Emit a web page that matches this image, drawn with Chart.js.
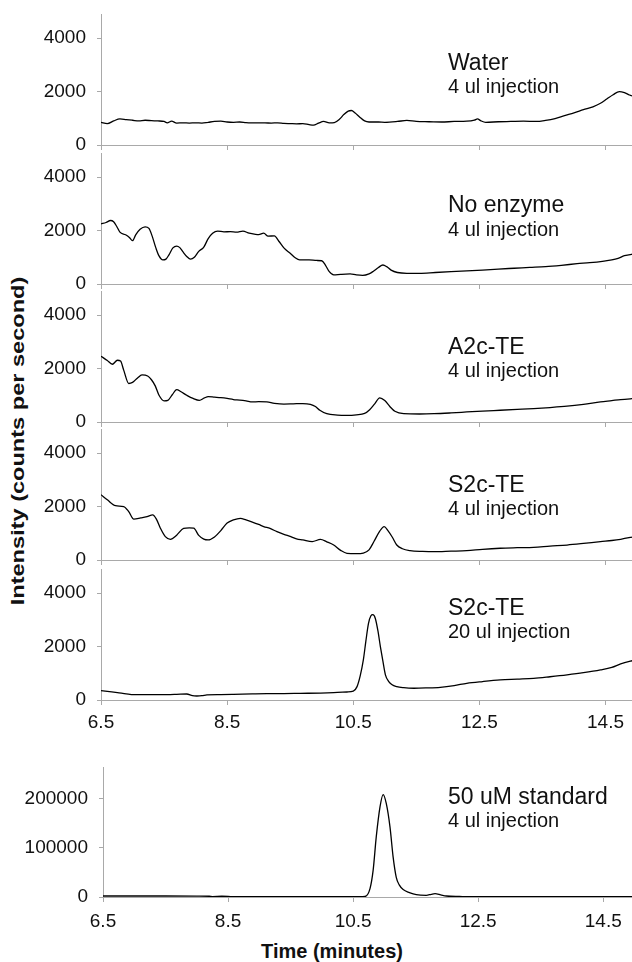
<!DOCTYPE html>
<html>
<head>
<meta charset="utf-8">
<script src="https://cdn.jsdelivr.net/npm/chart.js@4.4.1/dist/chart.umd.min.js"></script>
<style>
    body { margin: 0; background: #fff; }
    #wrap { position: relative; width: 632px; height: 962px; overflow: hidden; }
    #wrap canvas { position: absolute; left: 0; }
    #ytitle {
        position: absolute; left: 18px; top: 441px; white-space: nowrap;
        font: bold 19px "Liberation Sans", Arial, sans-serif; color: #111;
        transform: translate(-50%, -50%) rotate(-90deg) scaleX(1.24);
    }
    #xtitle {
        position: absolute; left: 332px; top: 940px; white-space: nowrap; line-height: 20px;
        font: bold 20px "Liberation Sans", Arial, sans-serif; color: #111;
        transform: translateX(-50%);
    }
</style>
</head>
<body>
<div id="wrap">
    <div id="ytitle">Intensity (counts per second)</div>
    <div id="xtitle">Time (minutes)</div>
</div>
<script>
// Data (time in minutes, intensity in counts per second)
const xTicks = [6.5, 8.5, 10.5, 12.5, 14.5];
const yTicksSample = [0, 2000, 4000];
const yTicksStd = [0, 100000, 200000];

const waterT = [6.5, 6.6, 6.7, 6.8, 6.9, 7.0, 7.1, 7.2, 7.3, 7.4, 7.5, 7.55, 7.62, 7.7, 7.8, 7.9, 8.0, 8.1, 8.2, 8.3, 8.4, 8.5, 8.6, 8.7, 8.8, 8.9, 9.0, 9.1, 9.2, 9.3, 9.4, 9.5, 9.6, 9.7, 9.8, 9.87, 9.95, 10.03, 10.12, 10.2, 10.28, 10.35, 10.42, 10.47, 10.53, 10.6, 10.68, 10.75, 10.9, 11.0, 11.2, 11.35, 11.5, 11.7, 11.9, 12.1, 12.3, 12.42, 12.47, 12.52, 12.6, 12.8, 13.0, 13.2, 13.4, 13.55, 13.7, 13.85, 14.0, 14.15, 14.3, 14.42, 14.52, 14.62, 14.72, 14.8, 14.88, 14.97];
const waterY = [850, 800, 900, 975, 950, 925, 900, 925, 910, 900, 880, 830, 890, 820, 830, 820, 830, 820, 850, 880, 890, 860, 850, 860, 840, 830, 825, 825, 820, 830, 810, 800, 790, 800, 760, 740, 820, 880, 830, 840, 960, 1140, 1270, 1290, 1200, 1050, 900, 860, 860, 850, 880, 920, 880, 870, 860, 880, 890, 930, 975, 910, 850, 870, 880, 890, 880, 920, 990, 1100, 1200, 1320, 1430, 1560, 1720, 1880, 2000, 1960, 1870, 1800];

const noEnzT = [6.5, 6.58, 6.65, 6.7, 6.75, 6.8, 6.89, 6.95, 7.0, 7.05, 7.12, 7.2, 7.26, 7.31, 7.37, 7.42, 7.48, 7.53, 7.58, 7.64, 7.7, 7.75, 7.8, 7.86, 7.92, 7.98, 8.05, 8.13, 8.2, 8.27, 8.35, 8.45, 8.55, 8.65, 8.75, 8.85, 8.95, 9.0, 9.08, 9.15, 9.25, 9.32, 9.4, 9.5, 9.58, 9.65, 9.8, 9.92, 10.0, 10.06, 10.12, 10.19, 10.3, 10.45, 10.55, 10.65, 10.75, 10.82, 10.9, 10.97, 11.03, 11.1, 11.2, 11.35, 11.55, 11.8, 12.05, 12.3, 12.55, 12.8, 13.05, 13.3, 13.55, 13.8, 14.05, 14.25, 14.45, 14.6, 14.7, 14.8, 14.97];
const noEnzY = [2250, 2300, 2375, 2330, 2150, 1940, 1840, 1740, 1620, 1840, 2050, 2140, 2080, 1800, 1350, 1050, 900, 930, 1100, 1350, 1420, 1360, 1200, 1030, 930, 1000, 1220, 1380, 1700, 1900, 1980, 1950, 1960, 1940, 1980, 1900, 1860, 1850, 1900, 1790, 1800, 1600, 1350, 1150, 980, 900, 900, 880, 870, 700, 460, 340, 360, 375, 340, 325, 380, 480, 620, 710, 650, 520, 430, 400, 400, 430, 460, 490, 520, 560, 590, 620, 650, 700, 760, 800, 850, 900, 960, 1060, 1130];

const a2cT = [6.5, 6.6, 6.68, 6.76, 6.81, 6.86, 6.94, 7.0, 7.08, 7.15, 7.24, 7.3, 7.36, 7.42, 7.5, 7.56, 7.63, 7.7, 7.77, 7.86, 7.96, 8.06, 8.14, 8.2, 8.3, 8.4, 8.5, 8.6, 8.7, 8.8, 8.9, 9.0, 9.13, 9.25, 9.4, 9.55, 9.7, 9.82, 9.9, 9.97, 10.08, 10.25, 10.4, 10.55, 10.68, 10.76, 10.84, 10.92, 11.0, 11.08, 11.16, 11.3, 11.55, 11.78, 12.05, 12.3, 12.55, 12.83, 13.1, 13.36, 13.62, 13.89, 14.15, 14.42, 14.6, 14.74, 14.97];
const a2cY = [2460, 2300, 2160, 2310, 2280, 1940, 1440, 1480, 1650, 1760, 1720, 1580, 1350, 1000, 790, 810, 1020, 1210, 1130, 1000, 880, 810, 900, 950, 930, 910, 880, 840, 820, 790, 750, 760, 750, 700, 670, 680, 690, 660, 580, 440, 310, 260, 250, 270, 320, 460, 680, 900, 800, 580, 400, 310, 300, 310, 340, 375, 410, 440, 470, 500, 540, 590, 660, 750, 800, 840, 880];

const s2cT = [6.5, 6.6, 6.73, 6.86, 6.94, 7.02, 7.13, 7.23, 7.32, 7.38, 7.44, 7.52, 7.6, 7.7, 7.81, 7.9, 7.97, 8.05, 8.13, 8.2, 8.3, 8.4, 8.5, 8.6, 8.71, 8.8, 8.9, 9.0, 9.08, 9.18, 9.29, 9.4, 9.51, 9.6, 9.7, 9.85, 9.98, 10.08, 10.19, 10.3, 10.4, 10.55, 10.66, 10.75, 10.83, 10.92, 10.99, 11.05, 11.12, 11.19, 11.28, 11.4, 11.6, 11.78, 12.05, 12.3, 12.55, 12.83, 13.1, 13.36, 13.62, 13.89, 14.15, 14.42, 14.6, 14.74, 14.97];
const s2cY = [2440, 2250, 2030, 2000, 1810, 1530, 1575, 1625, 1690, 1520, 1200, 875, 775, 930, 1180, 1200, 1190, 920, 780, 750, 860, 1100, 1380, 1500, 1560, 1500, 1420, 1330, 1250, 1180, 1060, 960, 875, 790, 750, 690, 770, 680, 560, 360, 250, 240, 260, 380, 700, 1080, 1250, 1100, 850, 560, 420, 350, 320, 310, 330, 350, 400, 440, 460, 475, 520, 560, 620, 690, 730, 775, 880];

const s2c20T = [6.5, 6.6, 6.76, 6.9, 7.02, 7.3, 7.55, 7.7, 7.86, 7.95, 8.02, 8.1, 8.18, 8.4, 8.6, 8.9, 9.13, 9.4, 9.66, 9.98, 10.19, 10.4, 10.5, 10.56, 10.61, 10.66, 10.7, 10.74, 10.78, 10.81, 10.85, 10.89, 10.93, 10.97, 11.01, 11.06, 11.11, 11.19, 11.3, 11.46, 11.65, 11.88, 12.1, 12.3, 12.55, 12.83, 13.1, 13.36, 13.62, 13.89, 14.15, 14.42, 14.6, 14.74, 14.97];
const s2c20Y = [350, 320, 275, 230, 200, 200, 200, 210, 225, 160, 150, 160, 190, 200, 210, 230, 240, 240, 250, 260, 275, 300, 330, 500, 900, 1500, 2200, 2850, 3150, 3190, 3050, 2600, 2000, 1450, 940, 700, 580, 500, 460, 440, 450, 475, 540, 625, 690, 750, 780, 810, 870, 940, 1020, 1125, 1220, 1350, 1500];

const stdT = [6.5, 7.5, 8.0, 8.2, 8.25, 8.4, 8.5, 8.6, 9.0, 10.0, 10.6, 10.69, 10.77, 10.82, 10.87, 10.93, 10.98, 11.03, 11.09, 11.14, 11.19, 11.24, 11.3, 11.4, 11.51, 11.67, 11.75, 11.81, 11.9, 11.99, 12.2, 12.37, 13.0, 14.0, 14.97];
const stdY = [2000, 2000, 1800, 1500, 900, 1500, 1200, 600, 500, 500, 500, 1000, 17000, 54000, 122000, 183000, 208000, 190000, 142000, 81000, 40000, 24000, 15000, 9000, 4700, 3400, 5500, 6800, 4500, 2000, 1000, 500, 500, 500, 500];

const panelTitles = ['Water', 'No enzyme', 'A2c-TE', 'S2c-TE', 'S2c-TE', '50 uM standard'];
const panelSubs = ['4 ul injection', '4 ul injection', '4 ul injection', '4 ul injection', '20 ul injection', '4 ul injection'];

const FONT = '"Liberation Sans", Arial, Helvetica, sans-serif';
const AXIS_GRAY = '#a9a9a9';

Chart.defaults.font.family = FONT;
Chart.defaults.color = '#111';

// draws the sample name + injection volume inside each panel
const panelLabel = {
    id: 'panelLabel',
    afterDraw(chart, args, opts) {
        const ctx = chart.ctx;
        const y0 = chart.scales.y.getPixelForValue(0);
        ctx.save();
        ctx.fillStyle = '#111';
        ctx.textBaseline = 'alphabetic';
        ctx.textAlign = 'left';
        ctx.font = `23px ${FONT}`;
        ctx.fillText(opts.title, 448, y0 + opts.dy[0]);
        ctx.font = `20px ${FONT}`;
        ctx.fillText(opts.sub, 448, y0 + opts.dy[1]);
        ctx.restore();
    }
};

// layout of each panel: plot top / zero line in page pixels
const panels = [
    { t: waterT, v: waterY, top: 14, bottom: 145, max: 4900, yt: yTicksSample, left: 101, xmax: 14.92, xh: 14, labels: false, dy: [-75, -52] },
    { t: noEnzT, v: noEnzY, top: 153, bottom: 284, max: 4900, yt: yTicksSample, left: 101, xmax: 14.92, xh: 14, labels: false, dy: [-72, -48] },
    { t: a2cT, v: a2cY, top: 291, bottom: 422, max: 4900, yt: yTicksSample, left: 101, xmax: 14.92, xh: 14, labels: false, dy: [-68, -45] },
    { t: s2cT, v: s2cY, top: 429, bottom: 560, max: 4900, yt: yTicksSample, left: 101, xmax: 14.92, xh: 14, labels: false, dy: [-68, -45] },
    { t: s2c20T, v: s2c20Y, top: 569, bottom: 700, max: 4900, yt: yTicksSample, left: 101, xmax: 14.92, xh: 36, labels: true, pad: 6, dy: [-85, -62] },
    { t: stdT, v: stdY, top: 767, bottom: 897, max: 264000, yt: yTicksStd, left: 103, xmax: 14.96, xh: 40, labels: true, pad: 8, dy: [-93, -70] }
];

const PAD_TOP = 14;
const wrap = document.getElementById('wrap');

panels.forEach((p, i) => {
    const canvas = document.createElement('canvas');
    const h = PAD_TOP + (p.bottom - p.top) + p.xh;
    canvas.width = 632;
    canvas.height = h;
    canvas.style.top = (p.top - PAD_TOP) + 'px';
    canvas.style.width = '632px';
    canvas.style.height = h + 'px';
    wrap.appendChild(canvas);

    new Chart(canvas.getContext('2d'), {
        type: 'line',
        data: {
            datasets: [{
                data: p.t.map((x, k) => ({ x: x, y: p.v[k] })),
                borderColor: '#000',
                borderWidth: 1.3,
                pointRadius: 0,
                cubicInterpolationMode: 'monotone',
                fill: false
            }]
        },
        options: {
            responsive: false,
            animation: false,
            devicePixelRatio: 1,
            layout: { padding: { top: PAD_TOP, left: 0, right: 0, bottom: 0 } },
            plugins: {
                legend: { display: false },
                tooltip: { enabled: false },
                panelLabel: { title: panelTitles[i], sub: panelSubs[i], dy: p.dy }
            },
            scales: {
                x: {
                    type: 'linear',
                    min: 6.5,
                    max: p.xmax,
                    afterBuildTicks: s => { s.ticks = xTicks.map(v => ({ value: v })); },
                    afterFit: s => { s.height = p.xh; },
                    grid: { drawOnChartArea: false, drawTicks: true, tickLength: 5, color: AXIS_GRAY },
                    border: { display: true, color: AXIS_GRAY, width: 1 },
                    ticks: {
                        display: p.labels,
                        autoSkip: false,
                        maxRotation: 0,
                        padding: p.pad || 6,
                        color: '#111',
                        font: { size: 19 },
                        callback: v => String(v)
                    }
                },
                y: {
                    min: 0,
                    max: p.max,
                    afterBuildTicks: s => { s.ticks = p.yt.map(v => ({ value: v })); },
                    // fixed axis width, and no extra vertical padding so the plot fills the slot
                    afterFit: s => { s.width = p.left; s.paddingTop = 0; s.paddingBottom = 0; },
                    grid: { drawOnChartArea: false, drawTicks: true, tickLength: 4, color: AXIS_GRAY },
                    border: { display: true, color: AXIS_GRAY, width: 1 },
                    ticks: {
                        autoSkip: false,
                        padding: 11,
                        color: '#111',
                        font: { size: 19 },
                        callback: v => String(v)
                    }
                }
            }
        },
        plugins: [panelLabel]
    });
});
</script>
</body>
</html>
